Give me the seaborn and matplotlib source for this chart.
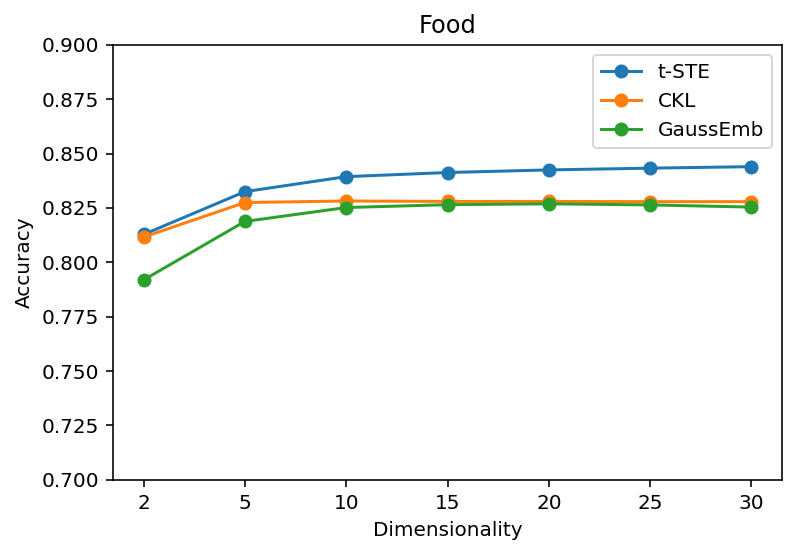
import pandas as pd
import seaborn as sns
import matplotlib.pyplot as plt

dims = ["2", "5", "10", "15", "20", "25", "30"]
tste = [0.8128, 0.8325, 0.8394, 0.8413, 0.8425, 0.8433, 0.8440]
ckl = [0.8116, 0.8275, 0.8282, 0.8280, 0.8280, 0.8279, 0.8279]
gauss = [0.7919, 0.8188, 0.8252, 0.8265, 0.8269, 0.8264, 0.8254]

df = pd.DataFrame({"Dimensionality": dims * 3,
                   "Accuracy": tste + ckl + gauss,
                   "method": ["t-STE"] * 7 + ["CKL"] * 7 + ["GaussEmb"] * 7})

fig, ax = plt.subplots(figsize=(797 / 144, 554 / 144), dpi=144)
sns.lineplot(data=df, x="Dimensionality", y="Accuracy", hue="method",
             marker="o", markersize=6, palette=["#1f77b4", "#ff7f0e", "#2ca02c"], ax=ax)
for line in ax.lines:
    line.set_markeredgecolor(line.get_color())
    line.set_markeredgewidth(1)
ax.set_ylim(0.7, 0.9)
ax.set_xlim(-0.3, 6.3)
ax.set_title("Food", fontsize=12)
ax.set_xlabel("Dimensionality", fontsize=10)
ax.set_ylabel("Accuracy", fontsize=10)
ax.tick_params(labelsize=10)
leg = ax.legend(loc="upper right", fontsize=10)
for h in leg.legend_handles:
    h.set_markeredgecolor(h.get_color())
    h.set_markersize(6)
fig.subplots_adjust(left=0.142, right=0.981, top=0.919, bottom=0.134)
fig.savefig("out.png")
